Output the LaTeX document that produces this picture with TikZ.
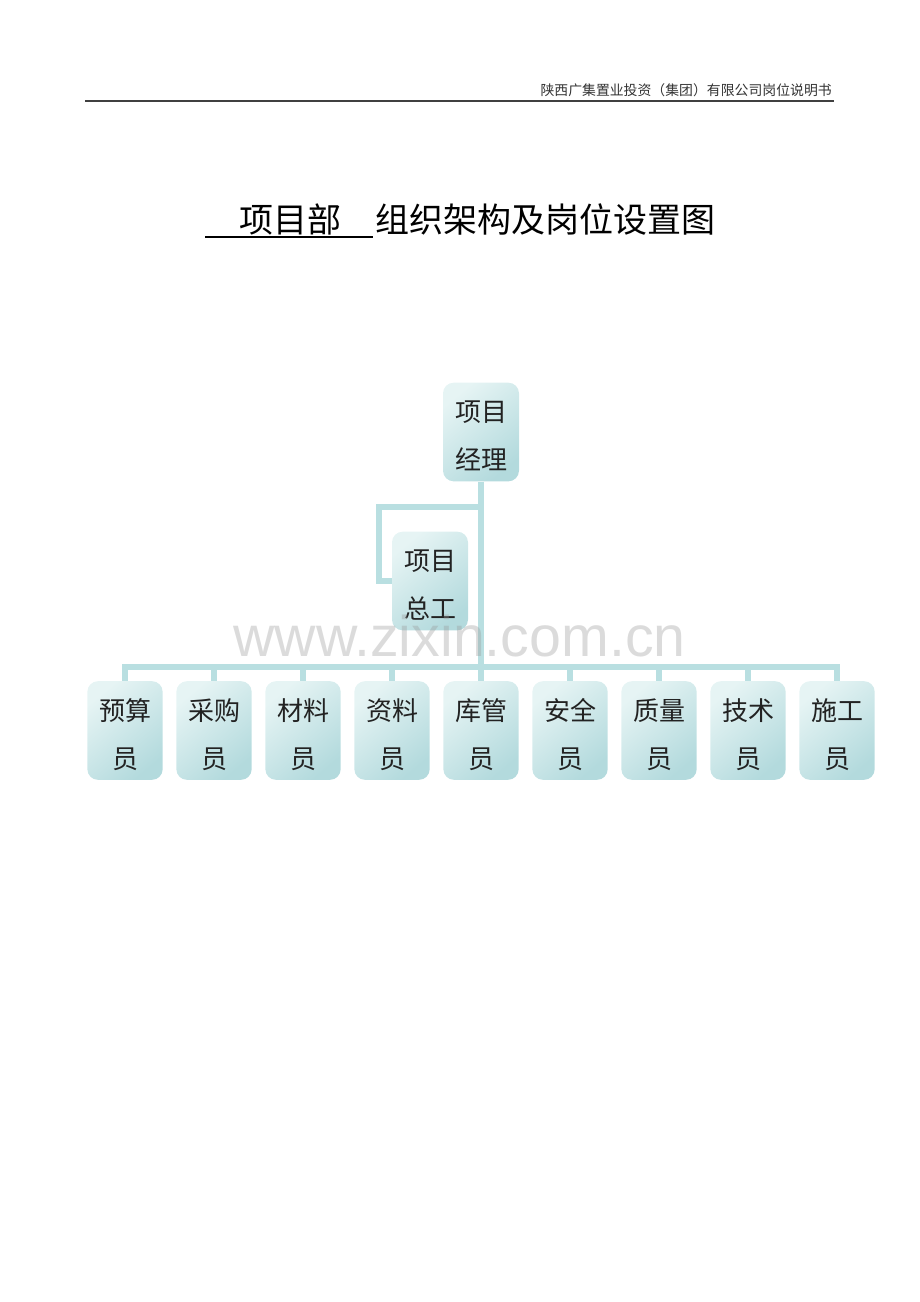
\documentclass[tikz,border=0pt]{standalone}
\usepackage{fontspec}
\setmainfont{Liberation Serif}
\newfontfamily\cjk{Noto Sans CJK SC}
\newfontfamily\wmfont{Liberation Sans}
\definecolor{linec}{HTML}{B9DFE1}
\definecolor{boxlight}{HTML}{E6F4F4}
\definecolor{boxmid}{HTML}{DFF1F1}
\definecolor{boxdark}{HTML}{B3DADD}
\definecolor{textc}{HTML}{222222}
\begin{document}
\begin{tikzpicture}[x=0.75pt,y=-0.75pt,
  orgbox/.style={rounded corners=8pt, inner sep=0pt, minimum width=56.5pt, minimum height=74pt,
    top color=boxlight, middle color=boxmid, bottom color=boxdark, shading angle=40},
  orgtext/.style={inner sep=0pt, align=center, text=textc, font=\cjk\fontsize{19.5}{36}\selectfont},
  conn/.style={draw=linec, line width=3.8pt, line join=miter},
  hdr/.style={inner sep=0pt, font=\cjk\fontsize{10.4}{13}\selectfont, text=black!80},
  ttl/.style={inner sep=0pt, font=\cjk\fontsize{25.5}{30}\selectfont, text=black}]
\useasboundingbox (0,0) rectangle (920,1302);
% header
\node[hdr, anchor=base east] (hdrtext) at (832,96) {陕西广集置业投资（集团）有限公司岗位说明书};
\coordinate (hl) at (85,101);
\coordinate (hr) at (834,101);
\draw[line width=1.1pt, black!75] (hl) -- (hr);
% title
\node[ttl, anchor=base] (t1) at (290,232) {项目部};
\node[ttl, anchor=base west] (t2) at (375,232) {组织架构及岗位设置图};
\coordinate (ul) at (205,237);
\coordinate (ur) at (373,237);
\draw[line width=1.2pt, black] (ul) -- (ur);
% boxes
\node[orgbox, minimum width=57pt] (pm) at (481,432) {};
\node[orgtext] (pmt) at ([yshift=-3pt]pm.center) {项目\\经理};
\node[orgbox, minimum width=57pt] (ce) at (430,581) {};
\node[orgtext] (cet) at ([yshift=-3pt]ce.center) {项目\\总工};
\coordinate (bus) at (481,667);
\coordinate (br) at (481,507);
\coordinate (bl) at (379,507);
\foreach \i/\x/\t in {1/125/预算,2/214/采购,3/303/材料,4/392/资料,5/481/库管,6/570/安全,7/659/质量,8/748/技术,9/837/施工}{
  \node[orgbox] (b\i) at (\x,730.5) {};
  \node[orgtext] (bt\i) at ([yshift=-3pt]b\i.center) {\t\\员};
}
% connectors
\draw[conn] (pm.south) -- (pm.south |- bus);
\draw[conn] (br) -- (bl) |- (ce.west);
\draw[conn] (b1.north) -- (b1.north |- bus) -- (b9.north |- bus) -- (b9.north);
\foreach \i in {2,...,8}{
  \draw[conn] (b\i.north) -- (b\i.north |- bus);
}
% watermark
\node[inner sep=0pt, text=black!40, opacity=0.35, font=\wmfont\fontsize{43}{50}\selectfont] (wm) at (459.5,636) {www.zixin.com.cn};
\end{tikzpicture}
\end{document}
